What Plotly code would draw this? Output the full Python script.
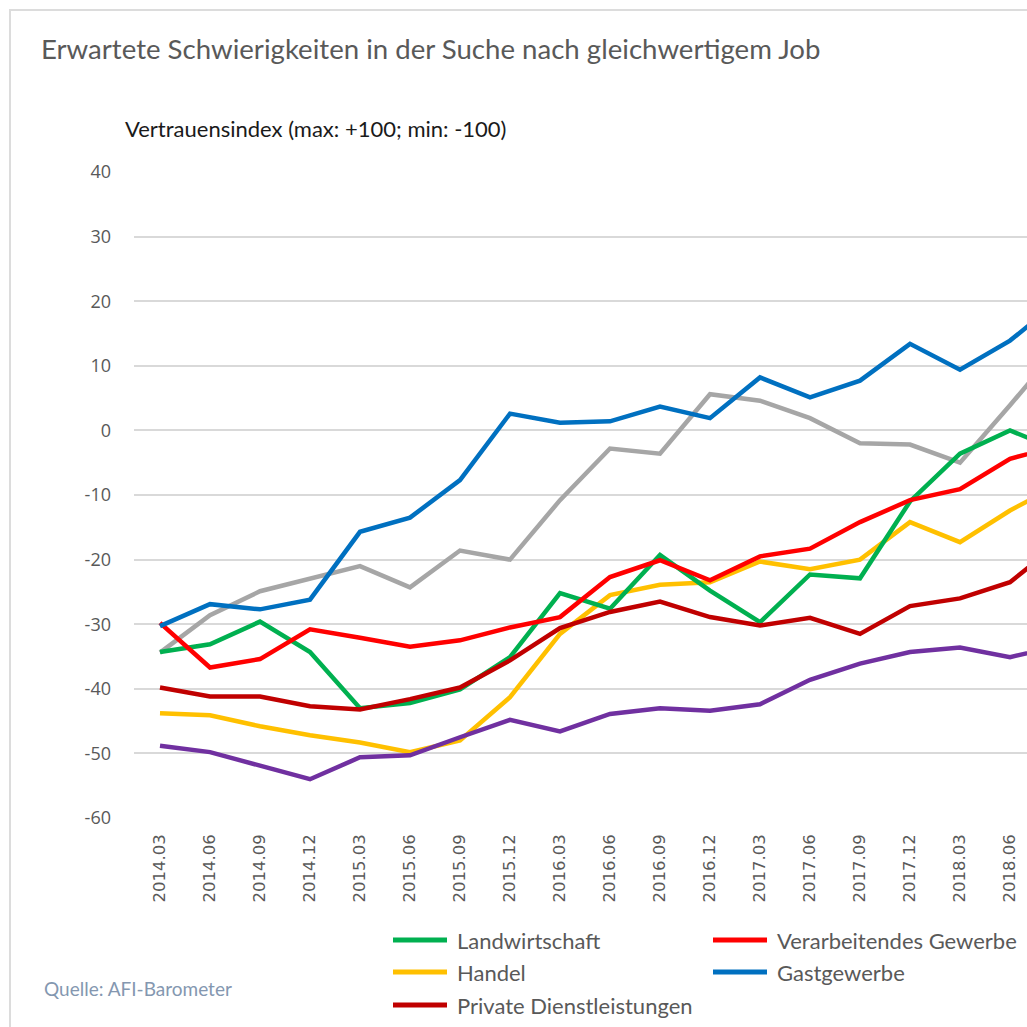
import plotly.graph_objects as go

# ---------------- data ----------------
categories = ["2014.03", "2014.06", "2014.09", "2014.12", "2015.03", "2015.06",
              "2015.09", "2015.12", "2016.03", "2016.06", "2016.09", "2016.12",
              "2017.03", "2017.06", "2017.09", "2017.12", "2018.03", "2018.06",
              "2018.09"]

landwirtschaft = [-34.3, -33.1, -29.6, -34.3, -43.0, -42.2, -40.1, -35.1, -25.2, -27.6,
                  -19.3, -24.8, -29.7, -22.3, -22.9, -11.0, -3.6, 0.0, -3.2]
verarbeitendes = [-29.8, -36.7, -35.4, -30.8, -32.1, -33.5, -32.5, -30.5, -28.9, -22.7,
                  -20.1, -23.2, -19.5, -18.3, -14.2, -10.8, -9.1, -4.4, -2.3]
handel = [-43.8, -44.1, -45.8, -47.2, -48.3, -49.8, -48.0, -41.3, -31.5, -25.5,
          -23.9, -23.5, -20.3, -21.5, -20.0, -14.2, -17.3, -12.4, -8.3]
gastgewerbe = [-30.3, -26.9, -27.7, -26.2, -15.7, -13.5, -7.7, 2.6, 1.2, 1.4,
               3.7, 1.9, 8.2, 5.1, 7.7, 13.4, 9.4, 13.9, 20.1]
private_dl = [-39.8, -41.2, -41.2, -42.7, -43.2, -41.6, -39.8, -35.6, -30.6, -28.1,
              -26.5, -28.9, -30.2, -29.0, -31.5, -27.2, -26.0, -23.5, -17.3]
grau_serie = [-34.4, -28.6, -24.9, -23.0, -21.0, -24.3, -18.6, -20.0, -10.8, -2.8,
              -3.6, 5.6, 4.6, 1.9, -2.0, -2.2, -5.0, 3.9, 13.0]
violett_serie = [-48.8, -49.8, -51.9, -54.0, -50.6, -50.3, -47.5, -44.8, -46.6, -43.9,
                 -43.0, -43.4, -42.4, -38.6, -36.1, -34.3, -33.6, -35.1, -33.3]

y_ticks = [40, 30, 20, 10, 0, -10, -20, -30, -40, -50, -60]
y_tick_labels = ["40", "30", "20", "10", "0", "-10", "-20", "-30", "-40", "-50", "-60"]

title_text = "Erwartete Schwierigkeiten in der Suche nach gleichwertigem Job"
subtitle_text = "Vertrauensindex (max: +100; min: -100)"
source_text = "Quelle: AFI-Barometer"

# (name, values, colour, legend row, legend col) ; drawing order bottom -> top
series = [
    ("", grau_serie, "#a6a6a6", None, None),
    ("Handel", handel, "#ffc000", 1, 0),
    ("", violett_serie, "#7030a0", None, None),
    ("Landwirtschaft", landwirtschaft, "#00b050", 0, 0),
    ("Verarbeitendes Gewerbe", verarbeitendes, "#ff0000", 0, 1),
    ("Gastgewerbe", gastgewerbe, "#0070c0", 1, 1),
    ("Private Dienstleistungen", private_dl, "#c00000", 2, 0),
]

# ---------------- layout geometry (pixels) ----------------
W = H = 1027
PL, PR, PT, PB = 134, 1027, 172, 818


def px(x):
    return (x - PL) / (PR - PL)


def py(y):
    return (PB - y) / (PB - PT)


fig = go.Figure()
for name, vals, col, r, c in series:
    fig.add_trace(go.Scatter(
        x=categories, y=vals, mode="lines", name=name,
        line=dict(color=col, width=4.5), showlegend=False,
    ))

FONT = "Lato"
annotations = [
    dict(text=title_text, x=px(39), y=py(48), xanchor="left", yanchor="middle",
         font=dict(family=FONT, size=27.6, color="#595959")),
    dict(text=subtitle_text, x=px(123), y=py(128), xanchor="left", yanchor="middle",
         font=dict(family=FONT, size=22, color="#1a1a1a")),
    dict(text=source_text, x=px(42), y=py(988), xanchor="left", yanchor="middle",
         font=dict(family=FONT, size=19, color="#8497b0")),
]
shapes = [
    dict(type="rect", xref="paper", yref="paper", x0=px(10), x1=px(1100),
         y0=py(1100), y1=py(10), line=dict(color="#dcdcdc", width=2),
         fillcolor="rgba(0,0,0,0)", layer="below"),
]

col_x = [393, 713, 1033]
row_y = [940, 972, 1005]
for name, vals, col, r, c in series:
    if r is None:
        continue
    x0 = col_x[c]
    yy = row_y[r]
    shapes.append(dict(type="line", xref="paper", yref="paper",
                       x0=px(x0), x1=px(x0 + 54), y0=py(yy), y1=py(yy),
                       line=dict(color=col, width=5)))
    annotations.append(dict(text=name, x=px(x0 + 62), y=py(yy), xanchor="left",
                            yanchor="middle",
                            font=dict(family=FONT, size=22, color="#595959")))

for a in annotations:
    a.update(xref="paper", yref="paper", showarrow=False)

fig.update_layout(
    width=W, height=H, autosize=False,
    margin=dict(l=PL, r=W - PR, t=PT, b=H - PB, pad=0),
    paper_bgcolor="white", plot_bgcolor="white",
    showlegend=False,
    annotations=annotations, shapes=shapes,
    xaxis=dict(type="category", categoryorder="array", categoryarray=categories,
               range=[-0.52, 17.34], showgrid=False, zeroline=False, showline=False,
               ticks="", tickangle=-90, ticklabelstandoff=12,
               tickfont=dict(family="DejaVu Sans", size=16.5, color="#595959")),
    yaxis=dict(range=[-60, 40], tickvals=y_ticks, ticktext=y_tick_labels,
               showgrid=True, gridcolor="#d9d9d9",
               gridwidth=1.5, zeroline=False, showline=False, ticks="",
               ticklabelstandoff=22,
               tickfont=dict(family="Open Sans", size=18, color="#595959")),
)

fig.write_html("out.html", config={"displayModeBar": False},
               post_script="document.body.style.margin='0';")
